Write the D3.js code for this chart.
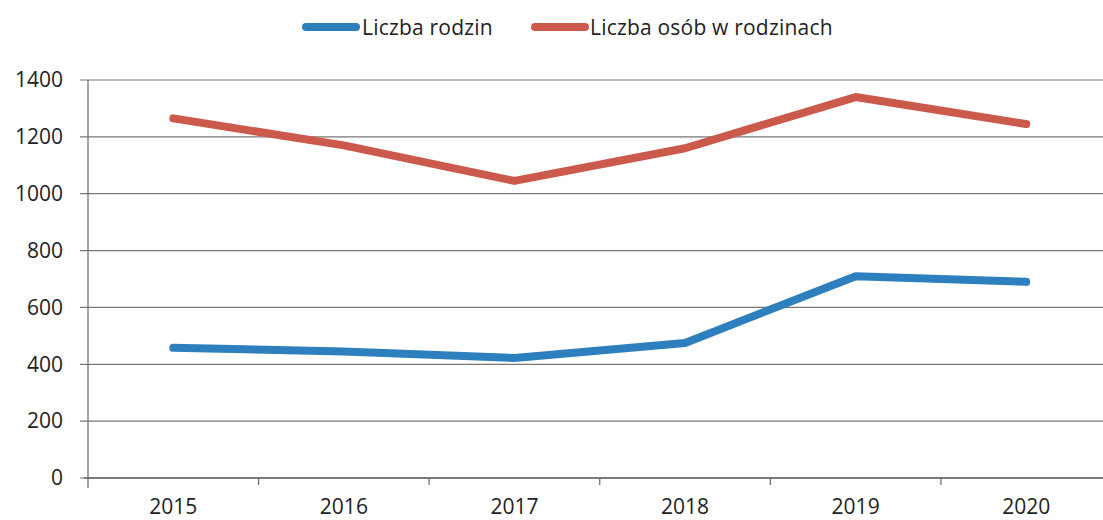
<!DOCTYPE html>
<html><head><meta charset="utf-8">
<script src="https://cdn.jsdelivr.net/npm/d3@7"></script>
<style>
html,body{margin:0;padding:0;background:#fff;}
svg{display:block;}
text{font-family:"Open Sans", Lato, sans-serif;fill:#222;}
</style></head>
<body>
<svg id="c" width="1103" height="520"></svg>
<script>
const years = ["2015","2016","2017","2018","2019","2020"];
const rodziny = [458, 445, 422, 475, 710, 690];
const osoby = [1265, 1170, 1045, 1160, 1340, 1245];
const seriesNames = ["Liczba rodzin", "Liczba osób w rodzinach"];
const yTicks = [0, 200, 400, 600, 800, 1000, 1200, 1400];

const colors = ["#2e7fbe", "#cc5a4c"];
const FONT = "'Open Sans', Lato, sans-serif";
const svg = d3.select("#c");
const W = 1103;
const x = d3.scaleBand().domain(years).range([88, 1111.5]);
const y = d3.scaleLinear().domain([0, 1400]).range([478, 80]);

// gridlines
svg.append("g").selectAll("line").data(yTicks).join("line")
  .attr("x1", 80).attr("x2", W)
  .attr("y1", d => y(d)).attr("y2", d => y(d))
  .attr("stroke", "#777").attr("stroke-width", 1.2);

// y axis line
svg.append("line").attr("x1", 88).attr("x2", 88).attr("y1", 80).attr("y2", 488)
  .attr("stroke", "#666").attr("stroke-width", 1.2);

// y labels
const yAxis = d3.axisLeft(y).tickValues(yTicks).tickFormat(d3.format("d")).tickSize(0).tickPadding(0);
const gy = svg.append("g").attr("transform", "translate(63,0)").call(yAxis);
gy.select(".domain").remove();
gy.selectAll("text").attr("font-size", 21).attr("font-family", FONT).attr("fill", "#222");

// x axis
const boundaries = years.map(d => x(d)).concat([x.range()[1]]);
svg.append("line").attr("x1", 84).attr("x2", W).attr("y1", y(0)).attr("y2", y(0))
  .attr("stroke", "#666").attr("stroke-width", 1.3);
svg.append("g").selectAll("line").data(boundaries.slice(1)).join("line")
  .attr("x1", d => d).attr("x2", d => d).attr("y1", y(0)).attr("y2", y(0) + 7)
  .attr("stroke", "#666").attr("stroke-width", 1.2);
const xAxis = d3.axisBottom(x).tickSize(0).tickPadding(0);
const gx = svg.append("g").attr("transform", "translate(0,514)").call(xAxis);
gx.select(".domain").remove();
gx.selectAll("text").attr("font-size", 21).attr("font-family", FONT).attr("fill", "#222")
  .attr("dy", null).attr("y", 0);

// lines
const line = d3.line().x((d, i) => x(years[i]) + x.bandwidth() / 2).y(d => y(d));
[rodziny, osoby].forEach((s, k) => {
  svg.append("path").datum(s).attr("d", line)
    .attr("fill", "none").attr("stroke", colors[k]).attr("stroke-width", 8)
    .attr("stroke-linecap", "round").attr("stroke-linejoin", "round");
});

// legend
const leg = [{x1: 306, x2: 356, tx: 362}, {x1: 535, x2: 585, tx: 590}];
leg.forEach((l, k) => {
  svg.append("line").attr("x1", l.x1).attr("x2", l.x2).attr("y1", 27).attr("y2", 27)
    .attr("stroke", colors[k]).attr("stroke-width", 8).attr("stroke-linecap", "round");
  svg.append("text").attr("x", l.tx).attr("y", 35)
    .attr("font-size", 21).attr("letter-spacing", 0.2).attr("font-family", FONT).text(seriesNames[k]);
});
</script>
</body></html>
